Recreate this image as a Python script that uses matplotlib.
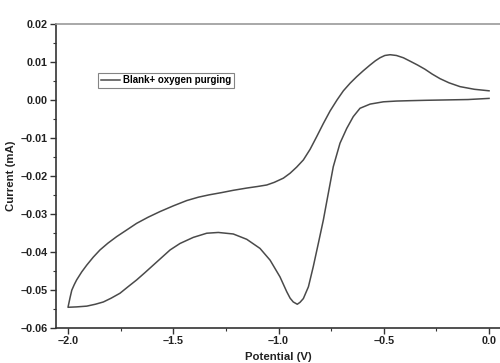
import matplotlib
matplotlib.use("Agg")
import matplotlib.pyplot as plt
from matplotlib.ticker import MultipleLocator, FuncFormatter

# cathodic scan, 0 V -> -2 V
pot_fwd = [0.000, -0.100, -0.200, -0.300, -0.375, -0.440, -0.502, -0.565, -0.613,
           -0.645, -0.676, -0.708, -0.740, -0.771, -0.787, -0.811, -0.835, -0.858,
           -0.882, -0.898, -0.911, -0.930, -0.945, -0.961, -0.993, -1.040, -1.088,
           -1.151, -1.215, -1.286, -1.341, -1.405, -1.468, -1.515, -1.555, -1.595,
           -1.635, -1.674, -1.715, -1.753, -1.795, -1.832, -1.870, -1.911, -1.960, -2.000]
cur_fwd = [0.0004, 0.0001, 0.0000, -0.0001, -0.0002, -0.0003, -0.0005, -0.0011, -0.0022,
           -0.0044, -0.0075, -0.0114, -0.0176, -0.0268, -0.0316, -0.0378, -0.0439, -0.0492,
           -0.0523, -0.0533, -0.0538, -0.0532, -0.0522, -0.0505, -0.0466, -0.0422, -0.0391,
           -0.0367, -0.0353, -0.0349, -0.0351, -0.0362, -0.0378, -0.0395, -0.0415, -0.0435,
           -0.0455, -0.0474, -0.0492, -0.0509, -0.0522, -0.0532, -0.0538, -0.0543, -0.0545, -0.0546]

# anodic scan, -2 V -> 0 V
pot_rev = [-2.000, -1.990, -1.982, -1.970, -1.959, -1.935, -1.911, -1.880, -1.848,
           -1.810, -1.769, -1.720, -1.674, -1.620, -1.563, -1.500, -1.436, -1.380,
           -1.330, -1.270, -1.215, -1.150, -1.100, -1.056, -1.020, -0.977, -0.945,
           -0.914, -0.882, -0.850, -0.819, -0.787, -0.755, -0.722, -0.692, -0.660,
           -0.629, -0.597, -0.565, -0.540, -0.518, -0.495, -0.470, -0.440, -0.407,
           -0.375, -0.340, -0.305, -0.270, -0.233, -0.190, -0.138, -0.070, 0.000]
cur_rev = [-0.0546, -0.0520, -0.0501, -0.0486, -0.0474, -0.0453, -0.0435, -0.0414, -0.0395,
           -0.0377, -0.0360, -0.0342, -0.0325, -0.0309, -0.0294, -0.0279, -0.0265, -0.0256,
           -0.0250, -0.0244, -0.0238, -0.0232, -0.0228, -0.0224, -0.0217, -0.0206, -0.0193,
           -0.0177, -0.0158, -0.0130, -0.0097, -0.0062, -0.0029, 0.0000, 0.0024, 0.0044,
           0.0061, 0.0077, 0.0092, 0.0103, 0.0111, 0.0117, 0.0119, 0.0117, 0.0111,
           0.0102, 0.0092, 0.0081, 0.0068, 0.0056, 0.0045, 0.0035, 0.0028, 0.0024]

plt.rcParams['font.family'] = ['Liberation Sans', 'DejaVu Sans']
plt.rcParams['font.weight'] = 'bold'

fig = plt.figure(figsize=(5, 3.63), dpi=100)
ax = fig.add_axes([0.112, 0.097, 0.888, 0.837])

line_col = '#4a4a4a'
ax.plot(pot_fwd + pot_rev, cur_fwd + cur_rev, color=line_col, lw=1.1,
        label='Blank+ oxygen purging')

ax.set_xlim(-2.057, 0.052)
ax.set_ylim(-0.06, 0.02)
ax.xaxis.set_major_locator(MultipleLocator(0.5))
ax.xaxis.set_minor_locator(MultipleLocator(0.25))
ax.yaxis.set_major_locator(MultipleLocator(0.01))
ax.yaxis.set_minor_locator(MultipleLocator(0.005))


def dash_fmt(fmt):
    return FuncFormatter(lambda v, p: (fmt % v).replace('-', '\u2013'))


ax.xaxis.set_major_formatter(dash_fmt('%.1f'))
ax.yaxis.set_major_formatter(dash_fmt('%.2f'))

ax.tick_params(which='major', direction='out', length=4, width=1, colors='#333333',
               labelsize=7.8, labelcolor='#222222', pad=2)
ax.tick_params(which='minor', direction='out', length=2.5, width=0.8, colors='#333333')
for lbl in ax.get_xticklabels() + ax.get_yticklabels():
    lbl.set_fontweight('bold')

for s in ['left', 'bottom']:
    ax.spines[s].set_color('#333333')
    ax.spines[s].set_linewidth(1.2)
ax.spines['top'].set_color('#999999')
ax.spines['top'].set_linewidth(1.2)
ax.spines['right'].set_visible(False)

ax.set_xlabel('Potential (V)', fontsize=8.2, fontweight='bold', labelpad=4, color='#222222')
ax.set_ylabel('Current (mA)', fontsize=8.2, fontweight='bold', labelpad=3, color='#222222')

leg = ax.legend(loc='upper left', bbox_to_anchor=(0.095, 0.839), fontsize=7,
                frameon=True, fancybox=False, handlelength=2.0, handletextpad=0.35,
                borderpad=0.25, borderaxespad=0)
leg.get_frame().set_edgecolor('#666666')
leg.get_frame().set_linewidth(0.8)
for t in leg.get_texts():
    t.set_fontweight('bold')

fig.savefig('out.png', dpi=100)
